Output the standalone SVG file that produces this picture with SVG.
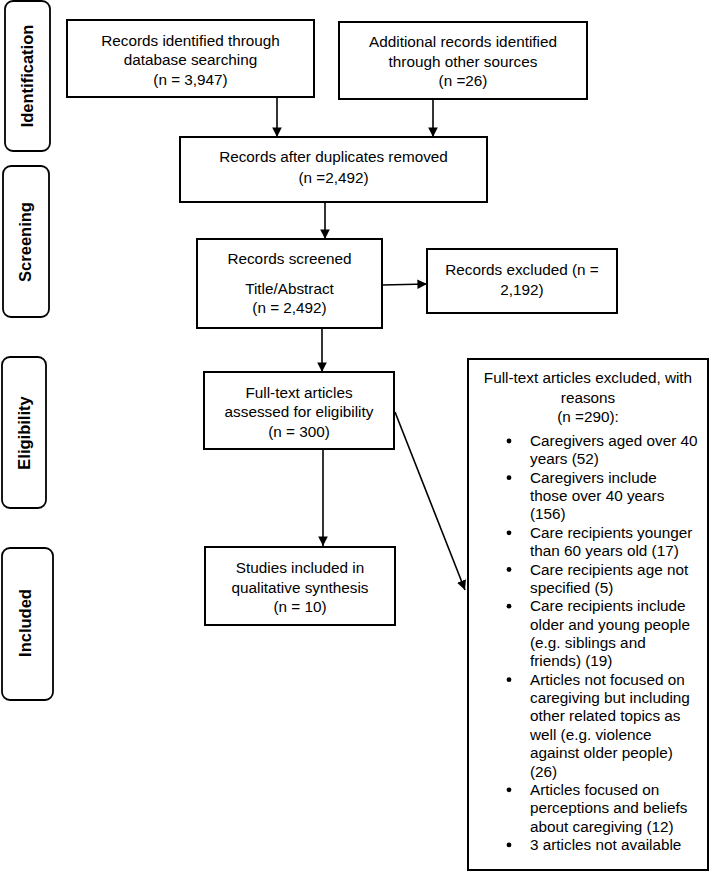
<svg xmlns="http://www.w3.org/2000/svg" width="710" height="873" viewBox="0 0 710 873">
<style>
.box{fill:#fff;stroke:#000;stroke-width:2}
.side{fill:#fff;stroke:#000;stroke-width:1.8}
.t{font-family:"Liberation Sans",Arial,sans-serif;font-size:15.3px;fill:#000;text-anchor:middle}
.s{font-family:"Liberation Sans",Arial,sans-serif;font-size:16.5px;font-weight:bold;fill:#000;text-anchor:middle}
.r{font-family:"Liberation Sans",Arial,sans-serif;font-size:15.3px;fill:#000}
.c{stroke:#000;stroke-width:1.6;fill:none;marker-end:url(#ah)}
</style>
<defs>
<marker id="ah" viewBox="0 0 10 10" refX="10" refY="5" markerWidth="6" markerHeight="6" orient="auto" markerUnits="strokeWidth">
<path d="M0,0 L10,5 L0,10 z" fill="#000"/>
</marker>
</defs>
<rect width="710" height="873" fill="#fff"/>
<g id="side-identification"><rect class="side" x="5" y="1" width="45" height="150" rx="8"/><text class="s" transform="translate(33,76) rotate(-90)">Identification</text></g>
<g id="side-screening"><rect class="side" x="3" y="166" width="46" height="151" rx="8"/><text class="s" transform="translate(31,242) rotate(-90)">Screening</text></g>
<g id="side-eligibility"><rect class="side" x="2" y="357" width="44" height="151" rx="8"/><text class="s" transform="translate(30,433) rotate(-90)">Eligibility</text></g>
<g id="side-included"><rect class="side" x="2" y="548" width="51" height="152" rx="8"/><text class="s" transform="translate(31,623) rotate(-90)">Included</text></g>

<g id="n-database"><rect class="box" x="67" y="20" width="247" height="77"/>
<text class="t" x="190.5" y="46">Records identified through</text>
<text class="t" x="190.5" y="65">database searching</text>
<text class="t" x="190.5" y="85">(n = 3,947)</text></g>

<g id="n-other"><rect class="box" x="339" y="22" width="248" height="77"/>
<text class="t" x="463" y="47">Additional records identified</text>
<text class="t" x="463" y="67">through other sources</text>
<text class="t" x="463" y="86">(n =26)</text></g>

<g id="n-dup"><rect class="box" x="180" y="137" width="307" height="65"/>
<text class="t" x="333.5" y="162">Records after duplicates removed</text>
<text class="t" x="333.5" y="183">(n =2,492)</text></g>

<g id="n-screened"><rect class="box" x="197" y="239" width="185" height="89"/>
<text class="t" x="289.5" y="264">Records screened</text>
<text class="t" x="289.5" y="294">Title/Abstract</text>
<text class="t" x="289.5" y="313">(n = 2,492)</text></g>

<g id="n-excluded"><rect class="box" x="427" y="249" width="190" height="64"/>
<text class="t" x="522" y="275">Records excluded (n =</text>
<text class="t" x="522" y="295">2,192)</text></g>

<g id="n-fulltext"><rect class="box" x="204" y="372" width="190" height="77"/>
<text class="t" x="299" y="398">Full-text articles</text>
<text class="t" x="299" y="417">assessed for eligibility</text>
<text class="t" x="299" y="437">(n = 300)</text></g>

<g id="n-included"><rect class="box" x="205" y="547" width="190" height="78"/>
<text class="t" x="300" y="573">Studies included in</text>
<text class="t" x="300" y="593">qualitative synthesis</text>
<text class="t" x="300" y="612">(n = 10)</text></g>

<g id="n-reasons"><rect class="box" x="468" y="359" width="240" height="511"/>
<text class="t" x="588" y="383">Full-text articles excluded, with</text>
<text class="t" x="588" y="403">reasons</text>
<text class="t" x="588" y="422">(n =290):</text>
<g class="r">
<text x="530" y="446">Caregivers aged over 40</text>
<text x="530" y="464.4">years (52)</text>
<text x="530" y="482.7">Caregivers include</text>
<text x="530" y="501.1">those over 40 years</text>
<text x="530" y="519.4">(156)</text>
<text x="530" y="537.8">Care recipients younger</text>
<text x="530" y="556.2">than 60 years old (17)</text>
<text x="530" y="574.5">Care recipients age not</text>
<text x="530" y="592.9">specified (5)</text>
<text x="530" y="611.2">Care recipients include</text>
<text x="530" y="629.6">older and young people</text>
<text x="530" y="648">(e.g. siblings and</text>
<text x="530" y="666.3">friends) (19)</text>
<text x="530" y="684.7">Articles not focused on</text>
<text x="530" y="703">caregiving but including</text>
<text x="530" y="721.4">other related topics as</text>
<text x="530" y="739.8">well (e.g. violence</text>
<text x="530" y="758.1">against older people)</text>
<text x="530" y="776.5">(26)</text>
<text x="530" y="794.8">Articles focused on</text>
<text x="530" y="813.2">perceptions and beliefs</text>
<text x="530" y="831.6">about caregiving (12)</text>
<text x="530" y="849.9">3 articles not available</text>
</g>
<g fill="#000">
<circle cx="509" cy="441" r="2.4"/>
<circle cx="509" cy="477.7" r="2.4"/>
<circle cx="509" cy="532.8" r="2.4"/>
<circle cx="509" cy="569.5" r="2.4"/>
<circle cx="509" cy="606.2" r="2.4"/>
<circle cx="509" cy="679.7" r="2.4"/>
<circle cx="509" cy="789.8" r="2.4"/>
<circle cx="509" cy="844.9" r="2.4"/>
</g></g>

<g id="connectors">
<line class="c" x1="277" y1="97" x2="277" y2="137"/>
<line class="c" x1="433" y1="99" x2="433" y2="137"/>
<line class="c" x1="325" y1="202" x2="325" y2="239"/>
<line class="c" x1="382" y1="285" x2="427" y2="284"/>
<line class="c" x1="322" y1="328" x2="322" y2="372"/>
<line class="c" x1="323" y1="449" x2="323" y2="546"/>
<line class="c" x1="395" y1="412" x2="465" y2="590"/>
</g>
</svg>
